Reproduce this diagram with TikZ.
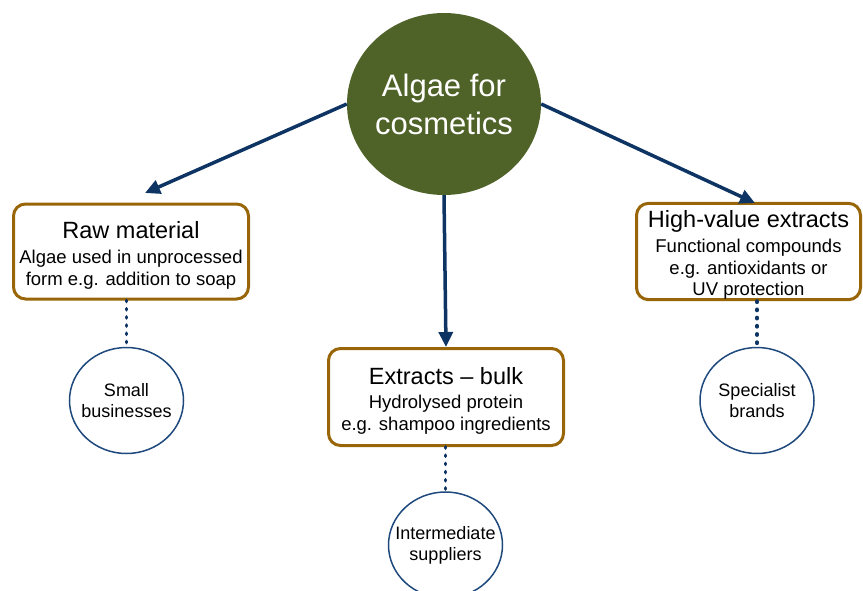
\documentclass[tikz,border=0pt]{standalone}
\usepackage{fontspec}
\setmainfont{Liberation Sans}
\usetikzlibrary{shapes.geometric, arrows.meta}
\definecolor{AGOlive}{RGB}{79,98,40}
\definecolor{AGBrown}{RGB}{152,102,8}
\definecolor{AGNavy}{RGB}{14,52,100}
\definecolor{AGBlue}{RGB}{31,73,125}

\begin{document}
\begin{tikzpicture}[x=1pt, y=-1pt,
          box/.style={rectangle, rounded corners=12pt, draw=AGBrown, line width=3pt,
                      fill=white, minimum height=95pt, inner sep=0pt, align=center,
                      font=\fontsize{18.5}{21.5}\selectfont},
          hub/.style={ellipse, fill=AGOlive, minimum width=194pt, minimum height=182pt,
                      inner xsep=-20pt, inner ysep=0pt,
                      text=white, align=center, font=\fontsize{31}{38}\selectfont},
          grp/.style={ellipse, draw=AGBlue, line width=1.5pt, minimum width=114pt,
                      minimum height=106pt, inner xsep=-20pt, inner ysep=0pt, align=center,
                      font=\fontsize{18}{21}\selectfont},
          arr/.style={-{Triangle[length=15pt, width=14pt]}, line width=3.5pt, AGNavy},
          dots/.style={AGNavy, line width=3.8pt, line cap=round, dash pattern=on 1pt off 7.2pt}
        ]
        \useasboundingbox (0,0) rectangle (863,590);

        % Hub
        \node[hub] (alg) at (444,104) {Algae for\\cosmetics};

        % Raw material
        \node[box, minimum width=235pt] (raw) at (131,251.5)
              {{\fontsize{23.5}{26}\selectfont\rule{0pt}{24pt}Raw material}\\[4pt]
               Algae used in unprocessed\\form e.g. addition to soap};
        % Extracts - bulk
        \node[box, minimum width=235pt, minimum height=97pt] (bulk) at (446,397)
              {{\fontsize{23.5}{26}\selectfont\rule{0pt}{24pt}Extracts -- bulk}\\[3pt]
               Hydrolysed protein\\e.g. shampoo ingredients};
        % High-value extracts
        \node[box, minimum width=224pt] (high) at (748.5,251.5)
              {{\fontsize{23.5}{26}\selectfont\rule{0pt}{24pt}High-value extracts}\\[4pt]
               Functional compounds\\e.g. antioxidants or\\UV protection};

        \coordinate (rawin) at (145,193);
        \coordinate (highin) at (755,203);
        \draw[arr] (alg.west)--(rawin);
        \draw[arr] (alg.east)--(highin);
        \draw[arr] (alg.south)--(bulk.north);

        % Who uses them
        \node[grp] (small) at (126.5,400.5) {Small\\businesses};
        \node[grp] (inter) at (445.5,545) {Intermediate\\suppliers};
        \node[grp] (spec) at (757,400.5) {Specialist\\brands};

        \draw[dots] (small.north |- raw.south)--(small.north);
        \draw[dots] (inter.north |- bulk.south)--(inter.north);
        \draw[dots] (spec.north |- high.south)--(spec.north);
      \end{tikzpicture}
\end{document}
